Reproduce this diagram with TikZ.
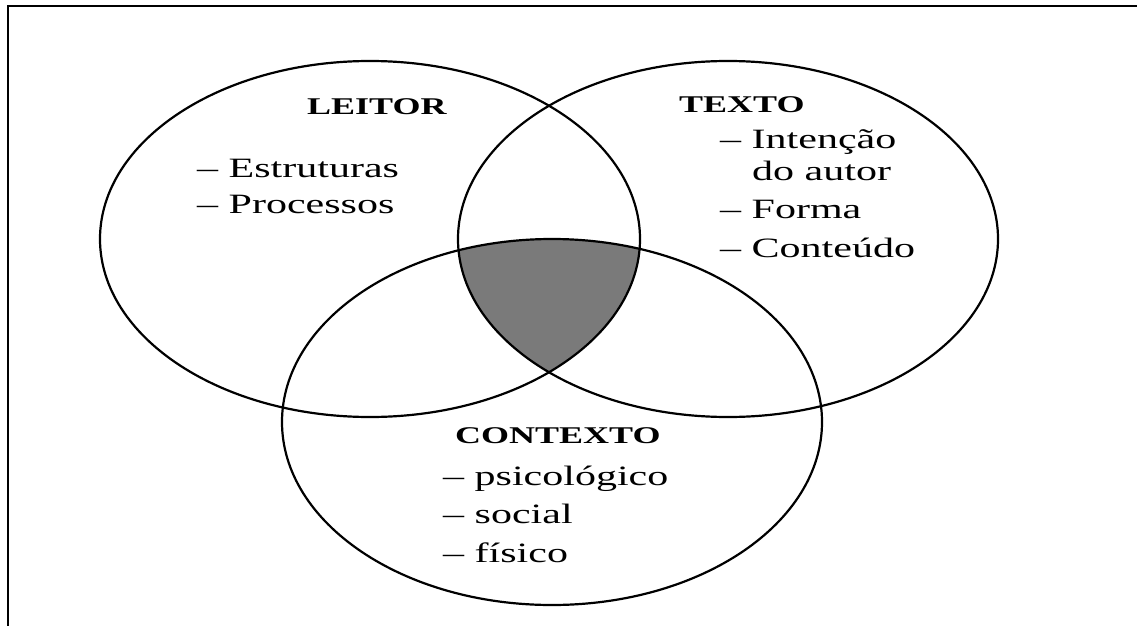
\documentclass[tikz,border=0pt]{standalone}
\usepackage{fontspec}
\setmainfont{Liberation Serif}
\begin{document}
\begin{tikzpicture}[x=1pt,y=-1pt,
  ring/.style={draw=black,line width=2.2pt},
  frameline/.style={draw=black,line width=2.8pt},
  head/.style={anchor=base west,inner sep=0pt,font=\fontsize{24}{24}\selectfont\bfseries},
  item/.style={anchor=base west,inner sep=0pt,font=\fontsize{28}{28}\selectfont}]
\useasboundingbox (0,0) rectangle (1137,626);
\fill[white] (0,0) rectangle (1137,626);
% frame
\draw[frameline] (1137,6) -- (8,6) -- (8,626);
% shaded common region
\begin{scope}
  \clip (370,239) ellipse [x radius=270pt, y radius=178pt];
  \clip (728,239) ellipse [x radius=270pt, y radius=178pt];
  \fill[fill={rgb,255:red,122;green,122;blue,122}] (552,422) ellipse [x radius=270pt, y radius=183pt];
\end{scope}
% ellipses
\draw[ring] (370,239) ellipse [x radius=270pt, y radius=178pt];
\draw[ring] (728,239) ellipse [x radius=270pt, y radius=178pt];
\draw[ring] (552,422) ellipse [x radius=270pt, y radius=183pt];
% LEITOR
\node[head] (leitor) at (307,114) {\scalebox{1.5}[1]{LEITOR}};
\node[item] (estr) at (197,177) {\scalebox{1.5}[1]{– Estruturas}};
\node[item] (proc) at (197,213) {\scalebox{1.5}[1]{– Processos}};
% TEXTO
\node[head] (texto) at (679,112) {\scalebox{1.5}[1]{TEXTO}};
\node[item] (inten) at (720,148) {\scalebox{1.5}[1]{– Intenção}};
\node[item] (autor) at (752,180) {\scalebox{1.5}[1]{do autor}};
\node[item] (forma) at (720,218) {\scalebox{1.5}[1]{– Forma}};
\node[item] (cont) at (720,257) {\scalebox{1.5}[1]{– Conteúdo}};
% CONTEXTO
\node[head] (contexto) at (455,443) {\scalebox{1.5}[1]{CONTEXTO}};
\node[item] (psi) at (443,485) {\scalebox{1.5}[1]{– psicológico}};
\node[item] (soc) at (443,523) {\scalebox{1.5}[1]{– social}};
\node[item] (fis) at (443,562) {\scalebox{1.5}[1]{– físico}};
\end{tikzpicture}
\end{document}
